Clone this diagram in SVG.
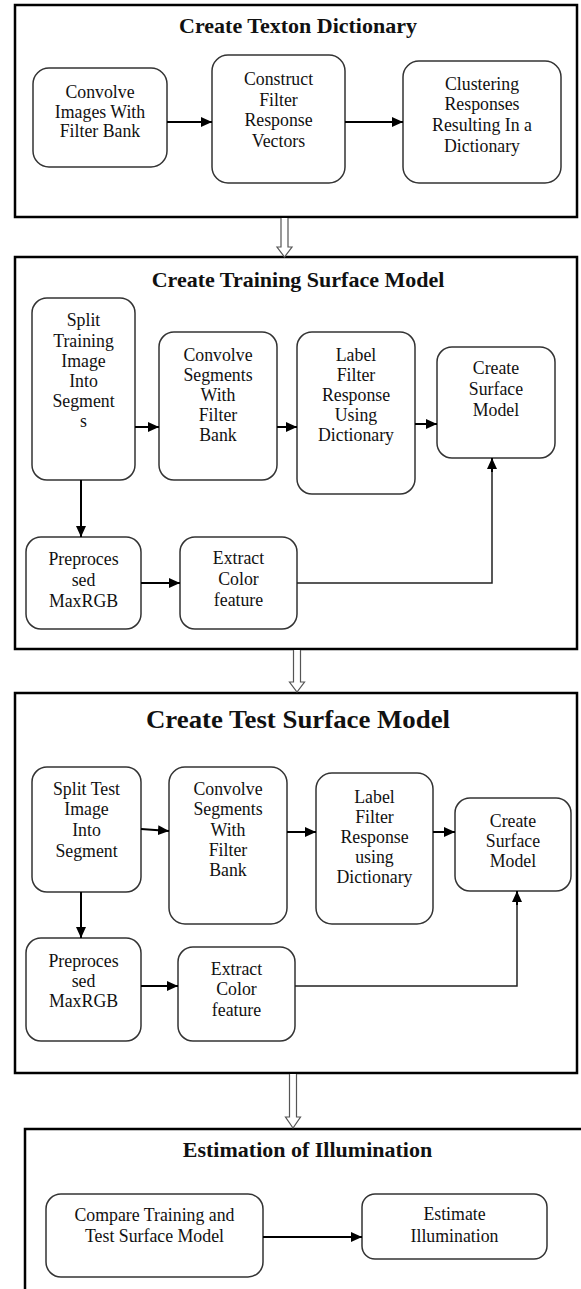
<svg xmlns="http://www.w3.org/2000/svg" width="581" height="1289" viewBox="0 0 581 1289">
<style>
.frame{fill:none;stroke:#000;stroke-width:2.5}
.node rect{fill:#fff;stroke:#333;stroke-width:1.5}
.node text{font-family:"Liberation Serif","Times New Roman",serif;font-size:17.8px;fill:#111;text-anchor:middle}
.title{font-family:"Liberation Serif","Times New Roman",serif;font-weight:bold;font-size:22px;fill:#111;text-anchor:middle}
.conn{fill:none;stroke:#000;stroke-width:2}
.thin{fill:none;stroke:#222;stroke-width:1.5}
.hollow{fill:#fff;stroke:#555;stroke-width:1.2}
</style>
<defs>
<marker id="ah" markerWidth="12" markerHeight="12" refX="11" refY="6" orient="auto" markerUnits="userSpaceOnUse">
<path d="M0,1 L11,6 L0,11 Z" fill="#000"/>
</marker>
</defs>
<rect width="581" height="1289" fill="#fff"/>

<g id="section-texton">
<rect class="frame" x="15" y="5" width="562" height="212"/>
<text class="title" x="298" y="33">Create Texton Dictionary</text>
</g>
<g id="n-convolve-images" class="node">
<rect x="33" y="68" width="134" height="99" rx="16"/>
<text x="100" y="98">Convolve</text><text x="100" y="118">Images With</text><text x="100" y="137">Filter Bank</text>
</g>
<g id="n-construct" class="node">
<rect x="212" y="55" width="133" height="128" rx="16"/>
<text x="278.5" y="85">Construct</text><text x="278.5" y="106">Filter</text><text x="278.5" y="126">Response</text><text x="278.5" y="147">Vectors</text>
</g>
<g id="n-clustering" class="node">
<rect x="403" y="61" width="158" height="122" rx="16"/>
<text x="482" y="90">Clustering</text><text x="482" y="110">Responses</text><text x="482" y="131">Resulting In a</text><text x="482" y="152">Dictionary</text>
</g>

<g id="section-training">
<rect class="frame" x="15" y="257" width="562" height="392"/>
<text class="title" x="298" y="287">Create Training Surface Model</text>
</g>
<g id="n-split-training" class="node">
<rect x="32" y="298" width="103" height="182" rx="15"/>
<text x="83.5" y="326">Split</text><text x="83.5" y="347">Training</text><text x="83.5" y="367">Image</text><text x="83.5" y="387">Into</text><text x="83.5" y="407">Segment</text><text x="83.5" y="427">s</text>
</g>
<g id="n-convolve-seg-tr" class="node">
<rect x="159" y="332" width="118" height="148" rx="15"/>
<text x="218" y="361">Convolve</text><text x="218" y="381">Segments</text><text x="218" y="401">With</text><text x="218" y="421">Filter</text><text x="218" y="441">Bank</text>
</g>
<g id="n-label-tr" class="node">
<rect x="297" y="332" width="118" height="162" rx="15"/>
<text x="356" y="361">Label</text><text x="356" y="381">Filter</text><text x="356" y="401">Response</text><text x="356" y="421">Using</text><text x="356" y="441">Dictionary</text>
</g>
<g id="n-surface-tr" class="node">
<rect x="437" y="347" width="118" height="111" rx="15"/>
<text x="496" y="374">Create</text><text x="496" y="395">Surface</text><text x="496" y="416">Model</text>
</g>
<g id="n-preproc-tr" class="node">
<rect x="26" y="537" width="115" height="92" rx="15"/>
<text x="83.5" y="565">Preproces</text><text x="83.5" y="586">sed</text><text x="83.5" y="607">MaxRGB</text>
</g>
<g id="n-extract-tr" class="node">
<rect x="180" y="537" width="117" height="92" rx="15"/>
<text x="238.5" y="564">Extract</text><text x="238.5" y="585">Color</text><text x="238.5" y="606">feature</text>
</g>

<g id="section-test">
<rect class="frame" x="15" y="693" width="562" height="380"/>
<text class="title" x="298" y="728" style="font-size:25px" textLength="304" lengthAdjust="spacingAndGlyphs">Create Test Surface Model</text>
</g>
<g id="n-split-test" class="node">
<rect x="32" y="767" width="109" height="125" rx="15"/>
<text x="86.5" y="795">Split Test</text><text x="86.5" y="815">Image</text><text x="86.5" y="836">Into</text><text x="86.5" y="857">Segment</text>
</g>
<g id="n-convolve-seg-te" class="node">
<rect x="169" y="767" width="118" height="157" rx="16"/>
<text x="228" y="795">Convolve</text><text x="228" y="815">Segments</text><text x="228" y="836">With</text><text x="228" y="856">Filter</text><text x="228" y="876">Bank</text>
</g>
<g id="n-label-te" class="node">
<rect x="316" y="773" width="117" height="151" rx="16"/>
<text x="374.5" y="803">Label</text><text x="374.5" y="823">Filter</text><text x="374.5" y="843">Response</text><text x="374.5" y="863">using</text><text x="374.5" y="883">Dictionary</text>
</g>
<g id="n-surface-te" class="node">
<rect x="455" y="798" width="116" height="93" rx="15"/>
<text x="513" y="827">Create</text><text x="513" y="847">Surface</text><text x="513" y="867">Model</text>
</g>
<g id="n-preproc-te" class="node">
<rect x="26" y="938" width="115" height="103" rx="15"/>
<text x="83.5" y="967">Preproces</text><text x="83.5" y="987">sed</text><text x="83.5" y="1007">MaxRGB</text>
</g>
<g id="n-extract-te" class="node">
<rect x="178" y="947" width="117" height="94" rx="15"/>
<text x="236.5" y="975">Extract</text><text x="236.5" y="995">Color</text><text x="236.5" y="1016">feature</text>
</g>

<g id="section-estimation">
<path class="frame" d="M25,1289 V1129 H581"/>
<text class="title" x="307.5" y="1157">Estimation of Illumination</text>
</g>
<g id="n-compare" class="node">
<rect x="46" y="1194" width="217" height="83" rx="15"/>
<text x="154.5" y="1221">Compare Training and</text><text x="154.5" y="1242">Test Surface Model</text>
</g>
<g id="n-estimate" class="node">
<rect x="362" y="1194" width="185" height="65" rx="13"/>
<text x="454.5" y="1220">Estimate</text><text x="454.5" y="1242">Illumination</text>
</g>

<g id="connectors">
<line class="conn" x1="167" y1="122" x2="212" y2="122" marker-end="url(#ah)"/>
<line class="conn" x1="345" y1="122" x2="403" y2="122" marker-end="url(#ah)"/>
<path class="hollow" d="M281,218 V247 H277 L284.5,257 L292,247 H288 V218"/>

<line class="conn" x1="135" y1="427" x2="159" y2="427" marker-end="url(#ah)"/>
<line class="conn" x1="277" y1="427" x2="297" y2="427" marker-end="url(#ah)"/>
<line class="conn" x1="415" y1="424" x2="437" y2="424" marker-end="url(#ah)"/>
<line class="conn" x1="81" y1="480" x2="81" y2="537" marker-end="url(#ah)"/>
<line class="conn" x1="141" y1="583" x2="180" y2="583" marker-end="url(#ah)"/>
<path class="thin" d="M297,583 H492 V468"/>
<line class="conn" x1="492" y1="472" x2="492" y2="458" marker-end="url(#ah)"/>
<path class="hollow" d="M293.5,650 V682 H289.5 L297,692 L304.5,682 H300.5 V650"/>

<line class="conn" x1="141" y1="829" x2="169" y2="831" marker-end="url(#ah)"/>
<line class="conn" x1="287" y1="832" x2="316" y2="832" marker-end="url(#ah)"/>
<line class="conn" x1="433" y1="832" x2="455" y2="832" marker-end="url(#ah)"/>
<line class="conn" x1="81" y1="892" x2="81" y2="938" marker-end="url(#ah)"/>
<line class="conn" x1="141" y1="986" x2="178" y2="986" marker-end="url(#ah)"/>
<path class="thin" d="M295,986 H517 V901"/>
<line class="conn" x1="517" y1="905" x2="517" y2="891" marker-end="url(#ah)"/>
<path class="hollow" d="M289.5,1074 V1117 H285.5 L293,1128 L300.5,1117 H296.5 V1074"/>

<line class="conn" x1="263" y1="1237" x2="362" y2="1237" marker-end="url(#ah)"/>
</g>
</svg>
